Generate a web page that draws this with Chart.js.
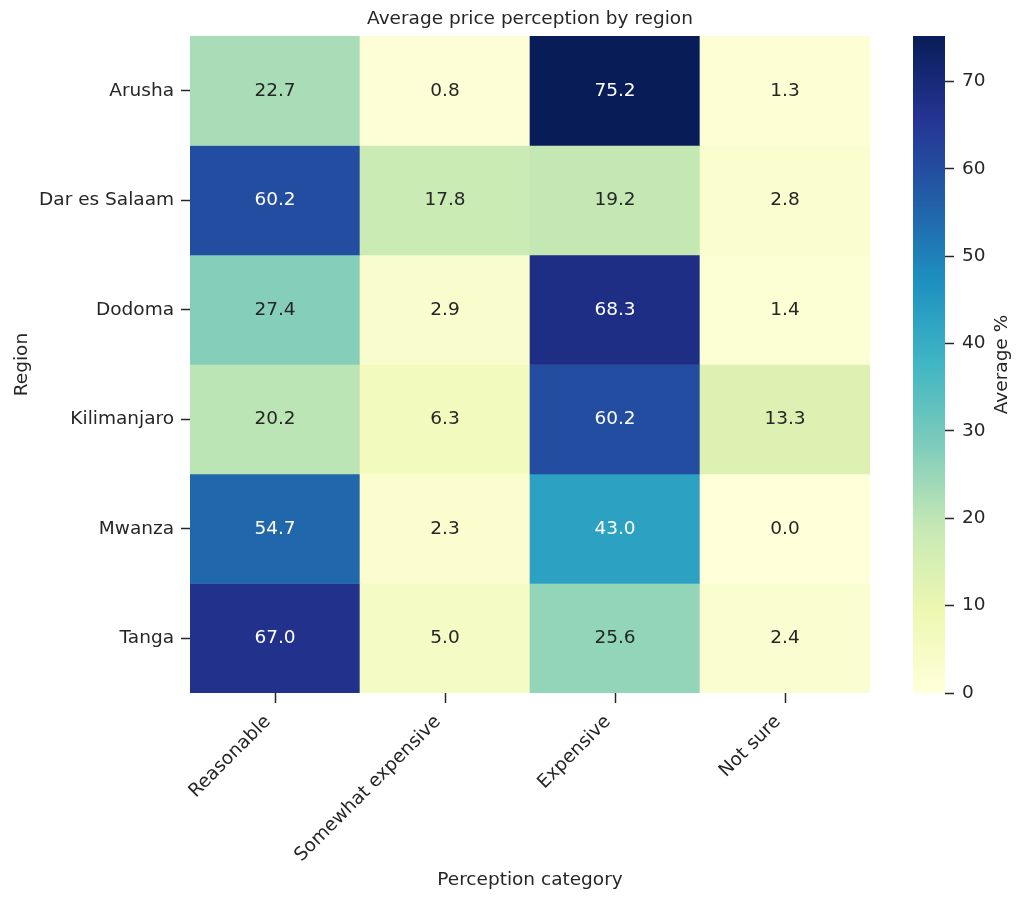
<!DOCTYPE html>
<html>
<head>
<meta charset="utf-8">
<title>Average price perception by region</title>
<script src="https://cdn.jsdelivr.net/npm/chart.js@4.4.1/dist/chart.umd.min.js"></script>
<style>
  html, body { margin: 0; padding: 0; background: #fff; }
  #wrap { position: relative; width: 1024px; height: 901px; }
  #wrap canvas { position: absolute; left: 0; top: 0; }
</style>
</head>
<body>
<div id="wrap">
  <canvas id="heatmap" width="1024" height="901"></canvas>
  <canvas id="colorbar" width="1024" height="901"></canvas>
</div>
<script>
// rows of the heatmap
const regions = ["Arusha", "Dar es Salaam", "Dodoma", "Kilimanjaro", "Mwanza", "Tanga"];
// columns of the heatmap
const categories = ["Reasonable", "Somewhat expensive", "Expensive", "Not sure"];

// average % per region, one array per column
const reasonable        = [22.7, 60.2, 27.4, 20.2, 54.7, 67.0];
const somewhatExpensive = [0.8, 17.8, 2.9, 6.3, 2.3, 5.0];
const expensive         = [75.2, 19.2, 68.3, 60.2, 43.0, 25.6];
const notSure           = [1.3, 2.8, 1.4, 13.3, 0.0, 2.4];

const colorbarTicks = [0, 10, 20, 30, 40, 50, 60, 70];

const columns = [reasonable, somewhatExpensive, expensive, notSure];
const allValues = columns.flat();
const vmin = Math.min(...allValues);
const vmax = Math.max(...allValues);

const FONT = "'DejaVu Sans', sans-serif";
const SIZE = 18.5;
const TEXT = "#262626";

// YlGnBu
const ylgnbu = [
  [255, 255, 217], [237, 248, 177], [199, 233, 180], [127, 205, 187], [65, 182, 196],
  [29, 145, 192], [34, 94, 168], [37, 52, 148], [8, 29, 88]
];

function cmapRgb(v) {
  let t = (v - vmin) / (vmax - vmin);
  t = Math.max(0, Math.min(1, t)) * (ylgnbu.length - 1);
  const i = Math.min(Math.floor(t), ylgnbu.length - 2);
  const f = t - i;
  const a = ylgnbu[i], b = ylgnbu[i + 1];
  return a.map((c, k) => Math.round(c + (b[k] - c) * f));
}
function cmap(v) {
  const c = cmapRgb(v);
  return `rgb(${c[0]},${c[1]},${c[2]})`;
}
function textColorFor(v) {
  const lin = cmapRgb(v).map((c) => {
    c /= 255;
    return c <= 0.03928 ? c / 12.92 : Math.pow((c + 0.055) / 1.055, 2.4);
  });
  const lum = 0.2126 * lin[0] + 0.7152 * lin[1] + 0.0722 * lin[2];
  return lum > 0.408 ? TEXT : "#ffffff";
}

const annotate = {
  id: "annotate",
  afterDatasetsDraw(chart) {
    const ctx = chart.ctx;
    ctx.save();
    ctx.font = `${SIZE}px ${FONT}`;
    ctx.textAlign = "center";
    ctx.textBaseline = "middle";
    chart.data.datasets.forEach((ds, d) => {
      chart.getDatasetMeta(d).data.forEach((bar, j) => {
        const v = columns[j][d];
        ctx.fillStyle = textColorFor(v);
        ctx.fillText(v.toFixed(1), bar.x, (bar.y + bar.base) / 2);
      });
    });
    const area = chart.chartArea;
    ctx.fillStyle = TEXT;
    ctx.fillText("Average price perception by region", (area.left + area.right) / 2, 19);
    ctx.restore();
  }
};

new Chart(document.getElementById("heatmap"), {
  type: "bar",
  data: {
    labels: categories,
    datasets: regions.map((r, i) => ({
      label: r,
      data: categories.map(() => 1),
      backgroundColor: (c) => cmap(columns[c.dataIndex][i]),
      borderWidth: 0,
      barPercentage: 1,
      categoryPercentage: 1
    }))
  },
  options: {
    responsive: false,
    animation: false,
    events: [],
    layout: { padding: { top: 36, right: 154, left: 0, bottom: 0 } },
    plugins: { legend: { display: false }, tooltip: { enabled: false }, title: { display: false } },
    scales: {
      x: {
        stacked: true,
        border: { display: false },
        grid: { display: true, offset: false, drawOnChartArea: false, tickLength: 10, tickColor: TEXT, tickWidth: 1.5 },
        ticks: { color: TEXT, font: { family: FONT, size: SIZE }, minRotation: 45, maxRotation: 45, padding: 8, labelOffset: -7 },
        title: { display: true, text: "Perception category", color: TEXT, font: { family: FONT, size: SIZE }, padding: { top: 4, bottom: 10 } },
        afterFit: (s) => { s.height = 208; }
      },
      y: {
        stacked: true,
        reverse: true,
        min: 0,
        max: regions.length,
        border: { display: false },
        grid: { display: true, drawOnChartArea: false, tickLength: 9, tickColor: TEXT, tickWidth: 1.5 },
        afterBuildTicks: (s) => { s.ticks = regions.map((r, i) => ({ value: i + 0.5 })); },
        ticks: {
          color: TEXT,
          font: { family: FONT, size: SIZE },
          padding: 7,
          callback: (v) => regions[Math.floor(v)]
        },
        title: { display: true, text: "Region", color: TEXT, font: { family: FONT, size: SIZE }, padding: { top: 11, bottom: 4 } },
        afterFit: (s) => { s.width = 190; }
      }
    }
  },
  plugins: [annotate]
});

const cbLabel = {
  id: "cbLabel",
  afterDraw(chart) {
    const ctx = chart.ctx;
    const area = chart.chartArea;
    ctx.save();
    ctx.translate(1002, (area.top + area.bottom) / 2);
    ctx.rotate(-Math.PI / 2);
    ctx.font = `${SIZE}px ${FONT}`;
    ctx.fillStyle = TEXT;
    ctx.textAlign = "center";
    ctx.textBaseline = "middle";
    ctx.fillText("Average %", 0, 0);
    ctx.restore();
  }
};

new Chart(document.getElementById("colorbar"), {
  type: "bar",
  data: {
    labels: ["Average %"],
    datasets: [{
      data: [[vmin, vmax]],
      borderWidth: 0,
      barPercentage: 1,
      categoryPercentage: 1,
      backgroundColor: (c) => {
        const area = c.chart.chartArea;
        if (!area) return null;
        const g = c.chart.ctx.createLinearGradient(0, area.bottom, 0, area.top);
        ylgnbu.forEach((col, k) => g.addColorStop(k / (ylgnbu.length - 1), `rgb(${col[0]},${col[1]},${col[2]})`));
        return g;
      }
    }]
  },
  options: {
    responsive: false,
    animation: false,
    events: [],
    layout: { padding: { top: 36, left: 913, right: 0, bottom: 208 } },
    plugins: { legend: { display: false }, tooltip: { enabled: false } },
    scales: {
      x: { display: false },
      y: {
        position: "right",
        min: vmin,
        max: vmax,
        border: { display: false },
        grid: { display: true, drawOnChartArea: false, tickLength: 9, tickColor: TEXT, tickWidth: 1.5 },
        afterBuildTicks: (s) => { s.ticks = colorbarTicks.map((v) => ({ value: v })); },
        ticks: { color: TEXT, font: { family: FONT, size: SIZE }, padding: 8 },
        afterFit: (s) => { s.width = 79; }
      }
    }
  },
  plugins: [cbLabel]
});
</script>
</body>
</html>
